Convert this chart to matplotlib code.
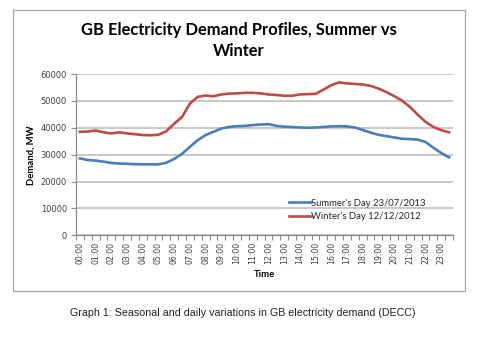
import numpy as np
import matplotlib
matplotlib.use("Agg")
import matplotlib.pyplot as plt
from matplotlib.patches import Rectangle

# half-hourly demand, MW
hours = ["%02d:00" % h for h in range(24)]
summer = [28600, 28000, 27800, 27400, 26900, 26700, 26600, 26450, 26400, 26400,
          26400, 27000, 28400, 30300, 32900, 35400, 37300, 38500, 39700, 40300,
          40600, 40700, 41000, 41200, 41350, 40700, 40400, 40300, 40100, 40000,
          40100, 40300, 40500, 40600, 40500, 40100, 39200, 38200, 37400, 36900,
          36400, 35900, 35800, 35600, 34700, 32600, 30600, 29000]
winter = [38500, 38600, 39000, 38300, 37900, 38300, 37900, 37600, 37300, 37200,
          37400, 38700, 41500, 44000, 49000, 51500, 52000, 51700, 52400, 52700,
          52800, 53000, 53000, 52800, 52400, 52200, 51900, 51900, 52400, 52500,
          52600, 54200, 55800, 56900, 56500, 56300, 56100, 55600, 54600, 53300,
          51800, 50100, 47800, 44900, 42200, 40300, 39100, 38300]
summer_label = "Summer's Day 23/07/2013"
winter_label = "Winter's Day 12/12/2012"

W, H = 484, 337
fig = plt.figure(figsize=(W / 100, H / 100), dpi=100)
fig.patch.set_facecolor("white")

# chart frame
fig.patches.append(Rectangle((13 / W, 1 - 291 / H), (465 - 13) / W, (291 - 10) / H,
                             transform=fig.transFigure, fill=False,
                             edgecolor="#a6a6a6", linewidth=0.9))

ax = fig.add_axes([76 / W, 1 - 235.3 / H, (453 - 76) / W, (235.3 - 74) / H])
x = np.arange(len(summer))
ax.plot(x, summer, color="#4a7ebb", linewidth=1.9, label=summer_label)
ax.plot(x, winter, color="#be4b48", linewidth=1.9, label=winter_label)

ax.set_xlim(-0.5, len(summer) - 0.5)
ax.set_ylim(0, 60000)
ax.set_yticks(range(0, 60001, 10000))
ax.yaxis.grid(True, color="#c4c4c4", linewidth=1.3)
ax.set_axisbelow(True)

ax.set_xticks(np.arange(0, len(summer), 2))
ax.set_xticklabels(hours, rotation=90, fontsize=5.6, color="#404040",
                   family="DejaVu Sans")
ax.set_xticks(np.arange(-0.5, len(summer), 1), minor=True)
ax.tick_params(axis="x", which="major", length=0, pad=5)
ax.tick_params(axis="x", which="minor", length=3.5, color="#8c8c8c", width=0.8)
ax.tick_params(axis="y", length=3.5, color="#8c8c8c", width=0.8,
               labelsize=6.0, labelcolor="#404040", pad=3)
for lab in ax.get_yticklabels():
    lab.set_family("DejaVu Sans")

for s in ["top", "right"]:
    ax.spines[s].set_visible(False)
ax.spines["left"].set_color("#8c8c8c")
ax.spines["bottom"].set_color("#8c8c8c")
ax.spines["left"].set_linewidth(0.9)
ax.spines["bottom"].set_linewidth(0.9)

fig.text(31 / W, 1 - 155 / H, "Demand, MW", rotation=90, ha="center", va="center",
         fontsize=6.8, fontweight="bold", family="Lato")
fig.text(264 / W, 1 - 274.5 / H, "Time", ha="center", va="center",
         fontsize=6.8, fontweight="bold", family="Lato")

fig.text(239 / W, 1 - 30 / H, "GB Electricity Demand Profiles, Summer vs",
         ha="center", va="center", fontsize=11.9, fontweight="bold", family="Lato")
fig.text(239 / W, 1 - 51.5 / H, "Winter",
         ha="center", va="center", fontsize=11.9, fontweight="bold", family="Lato")

leg = ax.legend(loc="lower left", bbox_to_anchor=((285 - 76) / (453 - 76), 0.065),
                frameon=False, fontsize=6.8, handlelength=2.3, handletextpad=0.1,
                labelspacing=0.45, borderaxespad=0)
for t in leg.get_texts():
    t.set_family("Lato")
    t.set_color("#262626")

fig.text(70 / W, 1 - 313 / H,
         "Graph 1: Seasonal and daily variations in GB electricity demand (DECC)",
         ha="left", va="center", fontsize=7.65, family="Liberation Sans",
         color="#222222")

fig.savefig("out.png", dpi=100)
